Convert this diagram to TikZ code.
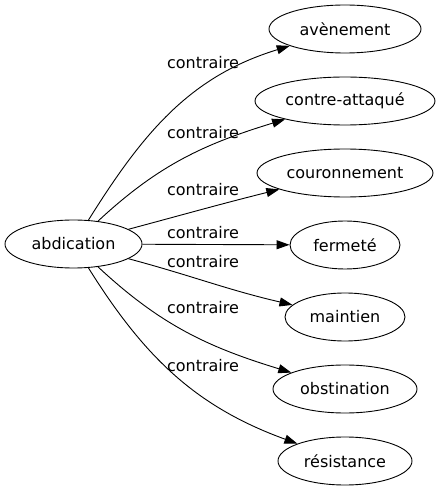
\documentclass[tikz,border=0pt]{standalone}
\usepackage{fontspec}
\setmainfont{DejaVu Sans}
\usepackage{tikz}
\usetikzlibrary{shapes.geometric, arrows.meta}
\tikzstyle{word} = [ellipse, draw=black, line width=0.9pt, minimum height=48pt, inner sep=0pt, text centered, font=\fontsize{16}{19}\selectfont]
\tikzstyle{lbl} = [inner sep=0pt, font=\fontsize{16}{19}\selectfont]
\tikzstyle{arrow} = [line width=0.9pt, -{Triangle[length=13pt,width=9pt]}]

\begin{document}
\begin{tikzpicture}[x=1pt, y=1pt, node distance=72pt]
			\useasboundingbox (0,0) rectangle (440,491);
			\node (abdication) [word, minimum width=137pt] at (73.5,247) {abdication};
			\node (avenement) [word, minimum width=152pt] at (345,462) {avènement};
			\node (contre) [word, minimum width=180pt, below of=avenement] {contre-attaqué};
			\node (couronnement) [word, minimum width=176pt, below of=contre] {couronnement};
			\node (fermete) [word, minimum width=110pt, below of=couronnement] {fermeté};
			\node (maintien) [word, minimum width=120pt, below of=fermete] {maintien};
			\node (obstination) [word, minimum width=144pt, below of=maintien] {obstination};
			\node (resistance) [word, minimum width=134pt, below of=obstination] {résistance};

			\node (l1) [lbl] at (203,428) {contraire};
			\node (l2) [lbl] at (203,358) {contraire};
			\node (l3) [lbl] at (203,301) {contraire};
			\node (l4) [lbl] at (203,258) {contraire};
			\node (l5) [lbl] at (203,229) {contraire};
			\node (l6) [lbl] at (203,183) {contraire};
			\node (l7) [lbl] at (203,125) {contraire};

			\draw [arrow] (abdication) to[out=58, in=197] (avenement);
			\draw [arrow] (abdication) to[out=43, in=197] (contre);
			\draw [arrow] (abdication) to[out=15, in=194] (couronnement);
			\draw [arrow] (abdication) -- (fermete);
			\draw [arrow] (abdication) to[out=-15, in=167] (maintien);
			\draw [arrow] (abdication) to[out=-43, in=163] (obstination);
			\draw [arrow] (abdication) to[out=-58, in=160] (resistance);
		\end{tikzpicture}
\end{document}
